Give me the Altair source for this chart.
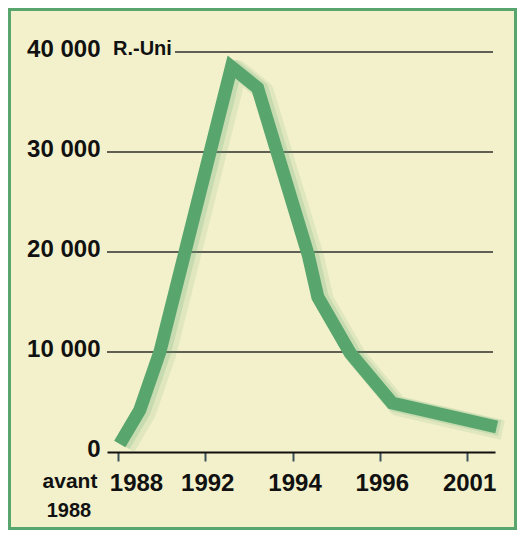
import altair as alt
import pandas as pd

# x positions are in "tick units": 0 = 1988 tick, 1 = 1992, 2 = 1994, 3 = 1996, 4 = 2001
line_x = [0.02, 0.25, 0.48, 1.30, 1.60, 2.18, 2.29, 2.66, 3.14, 4.34]
line_y = [800, 4200, 10000, 38500, 36400, 19700, 15500, 9900, 4900, 2500]

tick_pos = [0, 1, 2, 3, 4]
tick_labels = ["1988", "1992", "1994", "1996", "2001"]
y_ticks = [0, 10000, 20000, 30000, 40000]
grid_lower = [10000, 20000, 30000]
grid_top = [40000]
series_label = "R.-Uni"
before_label = ["avant", "1988"]

GREEN = "#58a66d"
CREAM = "#f3f1cb"
FONT = "Liberation Sans"

W, H = 388, 400
PAD = {"left": 99, "top": 44, "right": 22, "bottom": 78}

df = pd.DataFrame({"x": line_x, "y": line_y})
labels_expr = "[" + ",".join(f"'{t}'" for t in tick_labels) + "][datum.value]"

xscale = alt.Scale(domain=[-0.126, 4.32], nice=False, zero=False)
yscale = alt.Scale(domain=[0, 40000], nice=False)

base = alt.Chart(df)

shadow1 = base.mark_line(color=GREEN, strokeWidth=20, opacity=0.12, xOffset=6, yOffset=3,
                         strokeJoin="round").encode(
    x=alt.X("x:Q", scale=xscale), y=alt.Y("y:Q", scale=yscale))
shadow2 = base.mark_line(color=GREEN, strokeWidth=16, opacity=0.18, xOffset=3, yOffset=1,
                         strokeJoin="round").encode(
    x=alt.X("x:Q", scale=xscale), y=alt.Y("y:Q", scale=yscale))

main = base.mark_line(color=GREEN, strokeWidth=13, strokeJoin="miter", strokeCap="butt").encode(
    x=alt.X("x:Q", scale=xscale,
            axis=alt.Axis(values=tick_pos, labelExpr=labels_expr, title=None, grid=False,
                          domainColor="#111", domainWidth=2, tickColor="#3a4f58", tickWidth=2,
                          tickSize=9, labelFont=FONT, labelFontSize=24, labelFontWeight="bold",
                          labelColor="#111", labelPadding=10,
                          labelOffset={"condition": {"test": "datum.value == 0", "value": 18},
                                       "value": 2})),
    y=alt.Y("y:Q", scale=yscale,
            axis=alt.Axis(values=y_ticks, title=None, grid=False, domain=False, ticks=False,
                          labelExpr="replace(format(datum.value, ',d'), ',', ' ')",
                          labelFont=FONT, labelFontSize=24, labelFontWeight="bold",
                          labelColor="#111", labelPadding=7, labelOffset=-3)),
)

grid1 = alt.Chart(pd.DataFrame({"g": grid_lower})).mark_rule(color="#2e2e2e", strokeWidth=1.6).encode(
    y=alt.Y("g:Q", scale=yscale), x=alt.value(0), x2=alt.value(W - 2))
grid2 = alt.Chart(pd.DataFrame({"g": grid_top})).mark_rule(color="#2e2e2e", strokeWidth=1.6).encode(
    y=alt.Y("g:Q", scale=yscale), x=alt.value(68), x2=alt.value(W - 2))

series_text = alt.Chart(pd.DataFrame({"t": [series_label]})).mark_text(
    font=FONT, fontSize=20, fontWeight="bold", color="#111", align="left", baseline="middle"
).encode(text="t:N", x=alt.value(6), y=alt.value(-3))

before1 = alt.Chart(pd.DataFrame({"t": [before_label[0]]})).mark_text(
    font=FONT, fontSize=21, fontWeight="bold", color="#111", align="center", baseline="middle"
).encode(text="t:N", x=alt.value(-37), y=alt.value(430))
before2 = alt.Chart(pd.DataFrame({"t": [before_label[1]]})).mark_text(
    font=FONT, fontSize=20, fontWeight="bold", color="#111", align="center", baseline="middle"
).encode(text="t:N", x=alt.value(-38), y=alt.value(459))

frame = alt.Chart(pd.DataFrame({"a": [0]})).mark_rect(
    fill=None, stroke=GREEN, strokeWidth=3
).encode(x=alt.value(-97.5), x2=alt.value(W + PAD["right"] - 1.5),
         y=alt.value(-42.5), y2=alt.value(H + PAD["bottom"] - 1.5))

chart = alt.layer(grid1, grid2, shadow1, shadow2, main, series_text, before1, before2, frame).properties(
    width=W, height=H, padding=PAD, autosize=alt.AutoSizeParams(type="none"),
    background=CREAM,
).configure_view(stroke=None)

chart.save("out.html", embed_options={"renderer": "svg", "actions": False})
